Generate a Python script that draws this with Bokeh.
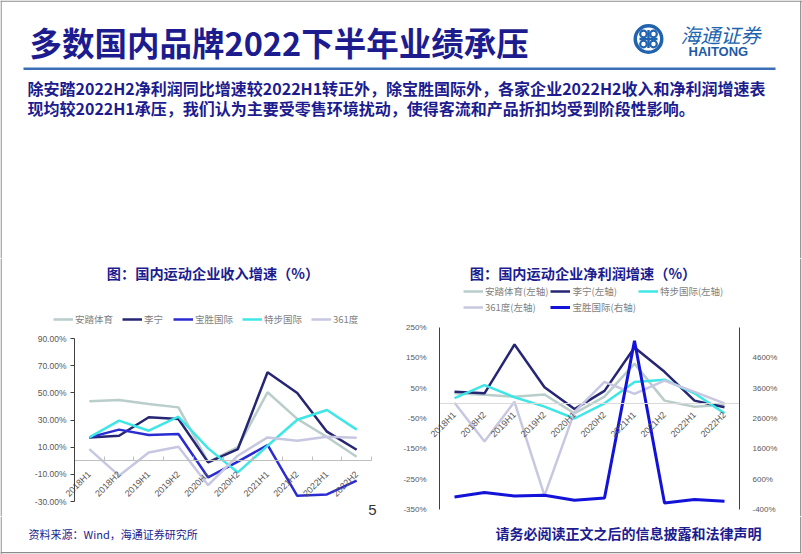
import math
from bokeh.plotting import figure
from bokeh.layouts import column, row
from bokeh.models import (Range1d, LinearAxis, FixedTicker, PrintfTickFormatter,
                          Legend, LegendItem, Label, BoxAnnotation, ColumnDataSource)
from bokeh.embed import file_html
from bokeh.resources import INLINE

# ---------------- data ----------------
periods = ["2018H1", "2018H2", "2019H1", "2019H2", "2020H1",
           "2020H2", "2021H1", "2021H2", "2022H1", "2022H2"]

# revenue growth (%)
rev_anta = [43.8, 44.8, 41.8, 39.3, -1.0, 10.0, 50.4, 30.8, 17.5, 3.0]
rev_lining = [17.2, 18.4, 32.0, 30.7, -1.2, 8.6, 65.1, 49.9, 21.4, 8.1]
rev_pousheng = [17.2, 22.9, 19.0, 19.7, -12.3, -0.7, 11.6, -25.8, -24.8, -14.7]
rev_xtep = [17.2, 29.5, 22.1, 32.4, 9.1, -8.6, 11.0, 30.2, 37.4, 22.9]
rev_361 = [8.6, -11.0, 6.1, 10.3, -18.0, 3.7, 17.2, 14.8, 17.7, 17.0]

# net profit growth (%)
np_anta = [33, 28, 22, 29, -33, 22, 131, 9, -11, -5]
np_lining = [38, 33, 194, 53, -19, 41, 184, 104, 9, -13]
np_xtep = [17, 60, 20, -11, -50, 0, 70, 78, 33, -33]
np_361 = [2, -126, 5, -304, -28, 71, 31, 75, 38, 0]
np_pousheng = [14, 159, 47, 70, -94, -19, 5160, -183, -71, -127]  # right axis

rev_ticks = [-30, -10, 10, 30, 50, 70, 90]
np_left_ticks = [-350, -250, -150, -50, 50, 150, 250]
np_right_ticks = [-400, 600, 1600, 2600, 3600, 4600]

names_rev = ["安踏体育", "李宁", "宝胜国际", "特步国际", "361度"]
names_np = ["安踏体育(左轴)", "李宁(左轴)", "特步国际(左轴)", "361度(左轴)", "宝胜国际(右轴)"]

idx = list(range(len(periods)))
period_labels = {i: p for i, p in zip(idx, periods)}
bounds_ticks = [i - 0.5 for i in range(len(periods) + 1)]

C_ANTA = "#b9cdca"
C_LINING = "#262673"
C_POU = "#2b2bd2"
C_POU2 = "#1212d8"
C_XTEP = "#3fe6e6"
C_361 = "#c7c7e2"
NAVY = "#1c1c8f"
GRAY = "#595959"
EDGE = "#8c8c8c"
CJK = "Noto Sans CJK SC"
LAT = "Liberation Sans"


def edge_box(p, **kw):
    p.add_layout(BoxAnnotation(fill_color=EDGE, fill_alpha=1, line_color=None, **kw))


# ---------------- header (page pixels) ----------------
head = figure(width=802, height=258, x_range=Range1d(0, 802), y_range=Range1d(258, 0),
              output_backend="svg", toolbar_location=None, min_border=0,
              x_axis_type=None, y_axis_type=None)
head.grid.visible = False
head.outline_line_color = None
edge_box(head, left=0, right=802, top=0, bottom=1.2)
edge_box(head, left=0, right=1.2)
edge_box(head, left=799.6, right=800.8)

head.add_layout(Label(x=29, y=41, text="多数国内品牌2022下半年业绩承压", text_font=CJK,
                      text_font_size="32.5px", text_font_style="bold", text_color=NAVY,
                      text_baseline="middle", text_align="left"))
head.add_layout(BoxAnnotation(left=23, right=775, top=67, bottom=69.5,
                              fill_color="#3b6eb4", fill_alpha=1, line_color=None))
para1 = "除安踏2022H2净利润同比增速较2022H1转正外，除宝胜国际外，各家企业2022H2收入和净利润增速表"
para2 = "现均较2022H1承压，我们认为主要受零售环境扰动，使得客流和产品折扣均受到阶段性影响。"
for yy, t in ((87, para1), (107, para2)):
    head.add_layout(Label(x=27, y=yy, text=t, text_font=CJK, text_font_size="16px",
                          text_font_style="bold", text_color=NAVY,
                          text_baseline="middle", text_align="left"))

# logo
lc = "#2163ae"
head.annulus(x=[648], y=[38.5], inner_radius=11.5, outer_radius=15, fill_color=lc, line_color=None)
head.annulus(x=[643, 653, 643, 653], y=[33.5, 33.5, 43.5, 43.5], inner_radius=2.2,
             outer_radius=4.4, fill_color=lc, line_color=None)
head.segment(x0=[639, 648], y0=[38.5, 29.5], x1=[657, 648], y1=[38.5, 47.5],
             line_color=lc, line_width=2.5)
head.add_layout(Label(x=680, y=34, text="海通证券", text_font=CJK, text_font_size="20px",
                      text_font_style="italic", text_color=lc,
                      text_baseline="middle", text_align="left"))
head.add_layout(Label(x=688, y=51, text="HAITONG", text_font=LAT, text_font_size="13px",
                      text_font_style="bold", text_color="#1f5aa6",
                      text_baseline="middle", text_align="left"))

# ---------------- left chart (page x 0..400, y 258..516) ----------------
L_X0, L_BW, L_Y0, L_H = 74, 29.7, 338, 163


def lu(px):
    return (px - L_X0) / L_BW - 0.5


def lv(py):
    return 90 - (py - L_Y0) * 120 / L_H


left = figure(x_range=Range1d(lu(0), lu(400)), y_range=Range1d(lv(516), lv(258)),
              width=400, height=258, min_border=0,
              output_backend="svg", toolbar_location=None)
left.grid.visible = False
left.outline_line_color = None
edge_box(left, left=lu(0), right=lu(1.2))

src_l = ColumnDataSource(dict(x=idx, anta=rev_anta, lining=rev_lining, pou=rev_pousheng,
                              xtep=rev_xtep, s361=rev_361))
rl = []
for col, c in (("anta", C_ANTA), ("lining", C_LINING), ("pou", C_POU), ("xtep", C_XTEP), ("s361", C_361)):
    rl.append(left.line(x="x", y=col, source=src_l, line_color=c, line_width=2.5))

xa = left.xaxis[0]
xa.fixed_location = 0
xa.bounds = (-0.5, len(periods) - 0.5)
xa.ticker = FixedTicker(ticks=idx, minor_ticks=bounds_ticks)
xa.major_label_overrides = period_labels
xa.major_label_orientation = math.pi / 4
xa.axis_line_color = "#bfbfbf"
xa.major_tick_line_color = None
xa.minor_tick_line_color = "#bfbfbf"
xa.minor_tick_in = 4
xa.minor_tick_out = 0
xa.major_label_text_font = LAT
xa.major_label_text_font_size = "9px"
xa.major_label_text_color = GRAY
xa.major_label_standoff = 6

ya = left.yaxis[0]
ya.fixed_location = -0.5
ya.bounds = (-30, 90)
ya.ticker = FixedTicker(ticks=rev_ticks)
ya.formatter = PrintfTickFormatter(format="%.2f%%")
ya.axis_line_color = "#404040"
ya.major_tick_line_color = "#404040"
ya.major_tick_out = 4
ya.major_tick_in = 0
ya.minor_tick_line_color = None
ya.major_label_text_font = LAT
ya.major_label_text_font_size = "8.5px"
ya.major_label_text_color = GRAY
ya.major_label_standoff = 4

leg_l = Legend(items=[LegendItem(label=n, renderers=[r]) for n, r in zip(names_rev, rl)],
               location=(53, 516 - 326), orientation="horizontal", glyph_width=20, glyph_height=12,
               label_height=12, label_standoff=2, spacing=9, padding=0, margin=0,
               border_line_color=None, background_fill_alpha=0,
               label_text_font=CJK, label_text_font_size="9.5px", label_text_color="#7f7f7f")
left.add_layout(leg_l)

left.add_layout(Label(x=lu(212.5), y=lv(272), text="图：国内运动企业收入增速（%）", text_font=CJK,
                      text_font_size="14.2px", text_font_style="bold", text_color=NAVY,
                      text_baseline="middle", text_align="center"))
left.add_layout(Label(x=lu(372), y=lv(509), text="5", text_font=LAT, text_font_size="15px",
                      text_color="#333333", text_baseline="middle", text_align="center"))

# ---------------- right chart (page x 400..802, y 258..516) ----------------
R_X0, R_BW, R_Y0, R_H = 439, 30.0, 327, 182


def ru(px):
    return (px - R_X0) / R_BW - 0.5


def rv(py):
    return 250 - (py - R_Y0) * 600 / R_H


def rr_(py):
    return 5600 - (py - R_Y0) * 6000 / R_H


right = figure(x_range=Range1d(ru(400), ru(802)), y_range=Range1d(rv(516), rv(258)),
               width=402, height=258, min_border=0,
               output_backend="svg", toolbar_location=None)
right.extra_y_ranges = {"r": Range1d(rr_(516), rr_(258))}
right.grid.visible = False
right.outline_line_color = None
edge_box(right, left=ru(799.6), right=ru(800.8))

src_r = ColumnDataSource(dict(x=idx, anta=np_anta, lining=np_lining, xtep=np_xtep,
                              s361=np_361, pou=np_pousheng))
rr = []
for col, c in (("anta", C_ANTA), ("lining", C_LINING), ("xtep", C_XTEP), ("s361", C_361)):
    rr.append(right.line(x="x", y=col, source=src_r, line_color=c, line_width=2.5))
rr.append(right.line(x="x", y="pou", source=src_r, line_color=C_POU2, line_width=3,
                     y_range_name="r"))

xb = right.xaxis[0]
xb.fixed_location = 0
xb.bounds = (-0.5, len(periods) - 0.5)
xb.ticker = FixedTicker(ticks=idx)
xb.major_label_overrides = period_labels
xb.major_label_orientation = math.pi / 4
xb.axis_line_color = "#d9d9d9"
xb.major_tick_line_color = None
xb.minor_tick_line_color = None
xb.major_label_text_font = LAT
xb.major_label_text_font_size = "9px"
xb.major_label_text_color = GRAY
xb.major_label_standoff = 4

yb = right.yaxis[0]
yb.fixed_location = -0.5
yb.bounds = (-350, 250)
yb.ticker = FixedTicker(ticks=np_left_ticks)
yb.formatter = PrintfTickFormatter(format="%d%%")
yb.axis_line_color = "#404040"
yb.major_tick_line_color = None
yb.minor_tick_line_color = None
yb.major_label_text_font = LAT
yb.major_label_text_font_size = "8px"
yb.major_label_text_color = GRAY
yb.major_label_standoff = 7

ra = LinearAxis(y_range_name="r", ticker=FixedTicker(ticks=np_right_ticks),
                formatter=PrintfTickFormatter(format="%d%%"))
ra.fixed_location = len(periods) - 0.5
ra.bounds = (-400, 5600)
ra.axis_line_color = "#404040"
ra.major_tick_line_color = None
ra.minor_tick_line_color = None
ra.major_label_text_font = LAT
ra.major_label_text_font_size = "8px"
ra.major_label_text_color = GRAY
ra.major_label_standoff = 7
right.add_layout(ra, "right")

leg_r = Legend(items=[LegendItem(label=n, renderers=[r]) for n, r in zip(names_np, rr)],
               location=(63, 516 - 314), orientation="horizontal", ncols=3, glyph_width=20,
               glyph_height=12, label_height=12, label_standoff=2, spacing=2, padding=0,
               margin=0, border_line_color=None, background_fill_alpha=0,
               label_text_font=CJK, label_text_font_size="9.5px", label_text_color="#7f7f7f")
right.add_layout(leg_r)

right.add_layout(Label(x=ru(582.5), y=rv(272), text="图：国内运动企业净利润增速（%）", text_font=CJK,
                       text_font_size="14.2px", text_font_style="bold", text_color=NAVY,
                       text_baseline="middle", text_align="center"))

# ---------------- footer (page y 516..554) ----------------
foot = figure(width=802, height=38, x_range=Range1d(0, 802), y_range=Range1d(554, 516),
              output_backend="svg", toolbar_location=None, min_border=0,
              x_axis_type=None, y_axis_type=None)
foot.grid.visible = False
foot.outline_line_color = None
edge_box(foot, left=0, right=1.2)
edge_box(foot, left=799.6, right=800.8, top=516, bottom=552.8)
edge_box(foot, left=0, right=800.8, top=551.6, bottom=552.8)
foot.add_layout(Label(x=28, y=533, text="资料来源：Wind，海通证券研究所", text_font=CJK,
                      text_font_size="11px", text_color=NAVY,
                      text_baseline="middle", text_align="left"))
foot.add_layout(Label(x=495, y=532, text="请务必阅读正文之后的信息披露和法律声明", text_font=CJK,
                      text_font_size="14px", text_font_style="bold", text_color=NAVY,
                      text_baseline="middle", text_align="left"))

page = column(head, row(left, right), foot)
open("out.html", "w").write(file_html(page, INLINE))
